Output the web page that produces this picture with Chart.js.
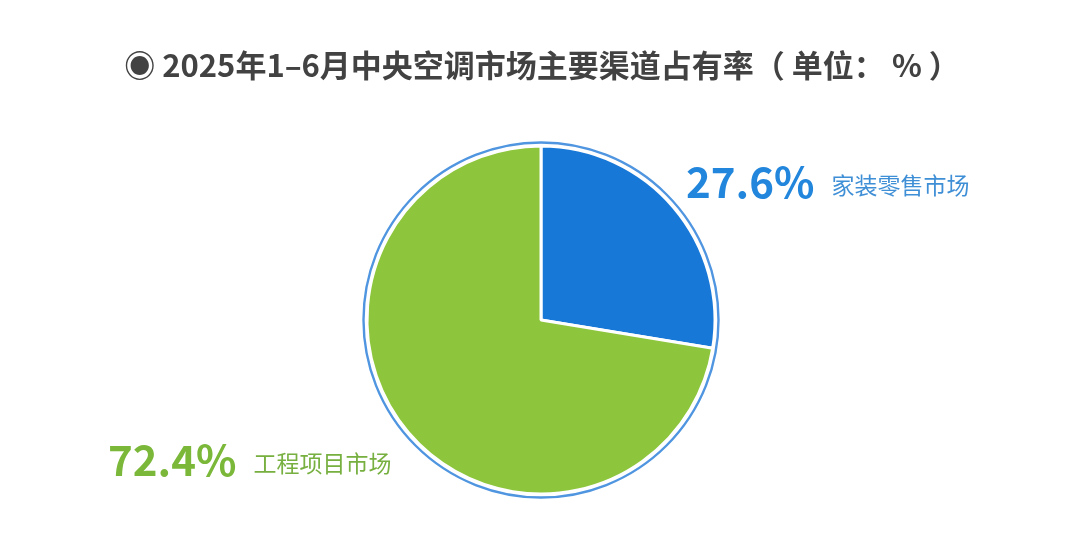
<!DOCTYPE html>
<html>
<head>
<meta charset="utf-8">
<script src="https://cdn.jsdelivr.net/npm/chart.js@4.4.1/dist/chart.umd.min.js"></script>
<style>
  html, body { margin: 0; padding: 0; background: #ffffff; }
  #wrap { width: 1080px; height: 544px; position: relative; }
</style>
</head>
<body>
<div id="wrap"><canvas id="c" width="1080" height="544"></canvas></div>
<script>
// Channel shares of the central air-conditioning market, Jan–Jun 2025 (%)
const title = '◉ 2025年1–6月中央空调市场主要渠道占有率（ 单位： % ）';
const categories = ['家装零售市场', '工程项目市场'];
const shares = [27.6, 72.4];
const sliceColors = ['#1878d8', '#8dc63c'];
const labelColors = ['#2286dc', '#7bb83a'];
const nameColors = ['#3f8fd6', '#77b040'];

const CJK = '"Noto Sans CJK SC", "Noto Sans", sans-serif';

// Thin outer ring, title and the value/name labels next to each slice
const decorations = {
  id: 'decorations',
  afterDatasetsDraw(chart) {
    const ctx = chart.ctx;
    const arcs = chart.getDatasetMeta(0).data;
    const cx = arcs[0].x, cy = arcs[0].y, r = arcs[0].outerRadius;

    ctx.save();
    ctx.beginPath();
    ctx.arc(cx, cy, r + 3.5, 0, Math.PI * 2);
    ctx.strokeStyle = '#4f95e0';
    ctx.lineWidth = 2.4;
    ctx.stroke();

    // title
    ctx.fillStyle = '#424242';
    ctx.font = 'bold 31px ' + CJK;
    ctx.textAlign = 'center';
    ctx.textBaseline = 'middle';
    ctx.fillText(title, 542, 65);

    // slice labels
    const spots = [
      { x: cx + 145, y: cy - 122 },
      { x: cx - 433, y: cy + 156 }
    ];
    ctx.textAlign = 'left';
    ctx.textBaseline = 'alphabetic';
    shares.forEach((v, i) => {
      const txt = v.toFixed(1) + '%';
      ctx.font = 'bold 42px ' + CJK;
      ctx.fillStyle = labelColors[i];
      ctx.fillText(txt, spots[i].x, spots[i].y);
      const w = ctx.measureText(txt).width;
      ctx.font = '23px ' + CJK;
      ctx.fillStyle = nameColors[i];
      ctx.fillText(categories[i], spots[i].x + w + 17, spots[i].y - 4);
    });
    ctx.restore();
  }
};

new Chart(document.getElementById('c'), {
  type: 'pie',
  data: {
    labels: categories,
    datasets: [{
      data: shares,
      backgroundColor: sliceColors,
      borderColor: '#ffffff',
      borderWidth: 3,
      radius: 174
    }]
  },
  options: {
    responsive: false,
    animation: false,
    layout: { padding: { top: 120, bottom: 24, left: 2, right: 0 } },
    plugins: {
      legend: { display: false },
      title: { display: false },
      tooltip: { enabled: false }
    }
  },
  plugins: [decorations]
});
</script>
</body>
</html>
